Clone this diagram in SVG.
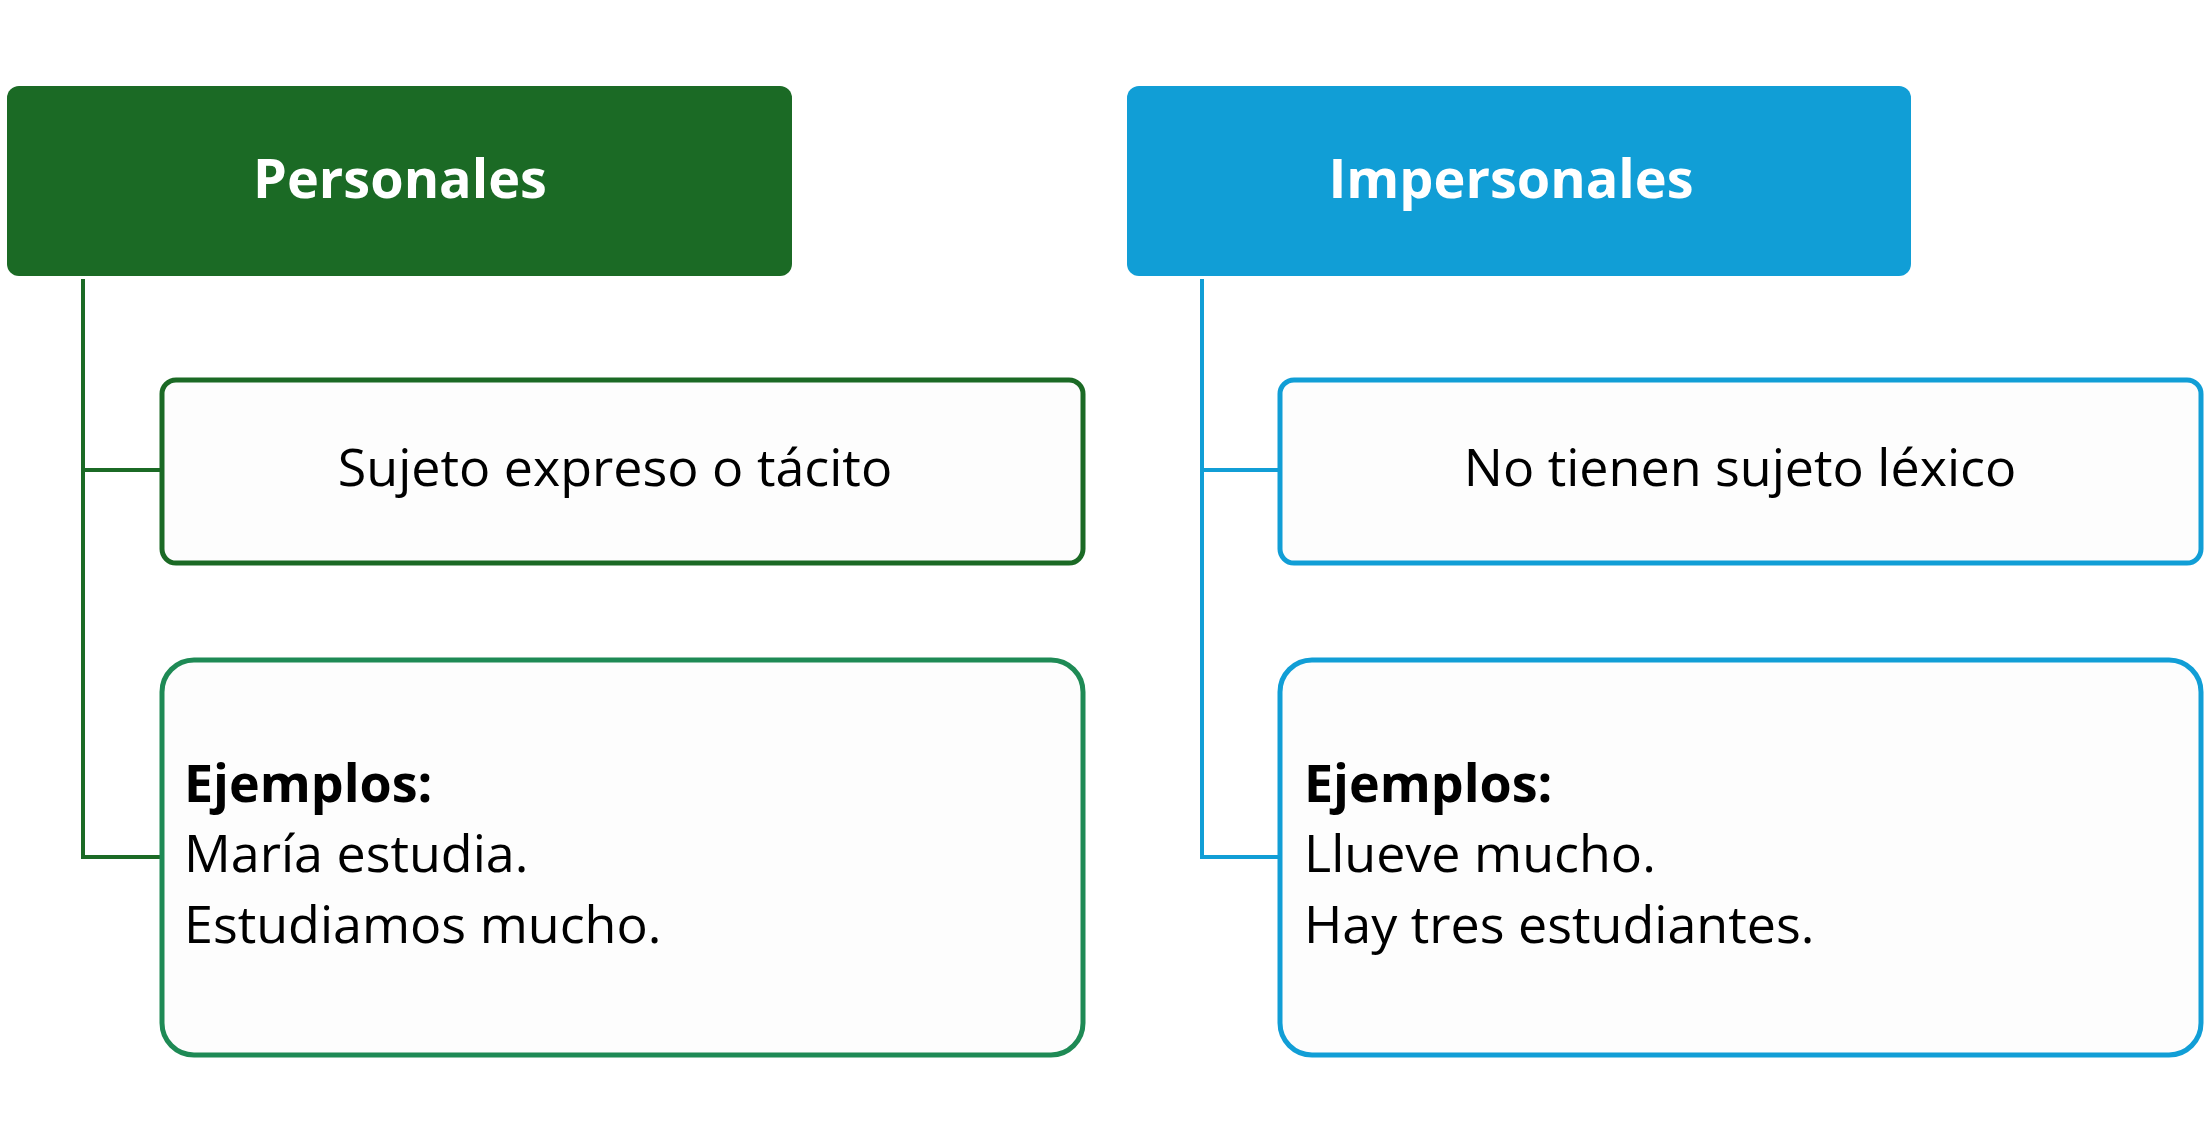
<svg xmlns="http://www.w3.org/2000/svg" width="2206" height="1137" viewBox="0 0 2206 1137">
<style>
text{font-family:"Open Sans","Liberation Sans",sans-serif;font-size:52px;fill:#000}
.h{font-weight:bold;fill:#fff;font-size:54px}
.b{font-weight:bold}
.box{fill:#fdfdfd;stroke-width:5}
.c{fill:none;stroke-width:4}
</style>
<rect width="2206" height="1137" fill="#fff"/>
<g id="connectors">
<path class="c" stroke="#1B6A25" d="M83 279V857H162M83 470H162"/>
<path class="c" stroke="#119ED6" d="M1202 279V857H1280M1202 470H1280"/>
</g>
<g id="personales"><rect x="7" y="86" width="785" height="190" rx="12" fill="#1B6A25"/><text class="h" x="400" y="198" text-anchor="middle">Personales</text></g>
<g id="p1"><rect class="box" stroke="#1B6A25" x="162" y="380" width="921" height="183" rx="14"/><text x="615" y="486" text-anchor="middle">Sujeto expreso o tácito</text></g>
<g id="p2"><rect class="box" stroke="#1E8A55" x="162" y="660" width="921" height="395" rx="32"/><text x="184" y="802" class="b">Ejemplos:</text><text x="184" y="872">María estudia.</text><text x="184" y="943">Estudiamos mucho.</text></g>
<g id="impersonales"><rect x="1127" y="86" width="784" height="190" rx="12" fill="#119ED6"/><text class="h" x="1511" y="198" text-anchor="middle">Impersonales</text></g>
<g id="i1"><rect class="box" stroke="#119ED6" x="1280" y="380" width="921" height="183" rx="14"/><text x="1740" y="486" text-anchor="middle">No tienen sujeto léxico</text></g>
<g id="i2"><rect class="box" stroke="#119ED6" x="1280" y="660" width="921" height="395" rx="32"/><text x="1304" y="802" class="b">Ejemplos:</text><text x="1304" y="872">Llueve mucho.</text><text x="1304" y="943">Hay tres estudiantes.</text></g>
</svg>
